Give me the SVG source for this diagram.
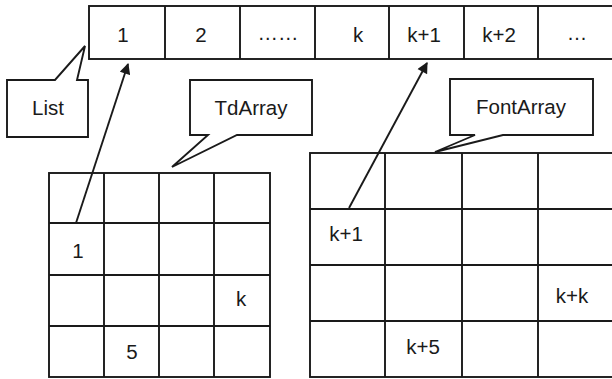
<svg xmlns="http://www.w3.org/2000/svg" width="612" height="379" viewBox="0 0 612 379">
<defs>
<style>
.ln{fill:none;stroke:#1a1a1a;stroke-width:1.9;stroke-linejoin:miter}
.bx{fill:#fff;stroke:#1a1a1a;stroke-width:1.9}
.t{font-family:"Liberation Sans",Arial,sans-serif;font-size:20.5px;fill:#1a1a1a;text-anchor:middle}
</style>
<marker id="ah" viewBox="0 0 10 10" refX="9" refY="5" markerWidth="12" markerHeight="11" markerUnits="userSpaceOnUse" orient="auto">
<path d="M0,0 L10,5 L0,10 Z" fill="#1a1a1a"/>
</marker>
</defs>
<rect width="612" height="379" fill="#fff"/>
<g id="list-array">
<rect class="bx" x="89" y="6" width="527" height="53"/>
<path class="ln" d="M165,6V59M240,6V59M315,6V59M389,6V59M464,6V59M538,6V59"/>
<text class="t" x="123" y="42">1</text>
<text class="t" x="201" y="42">2</text>
<text class="t" x="278" y="40">……</text>
<text class="t" x="358" y="42">k</text>
<text class="t" x="424" y="42">k+1</text>
<text class="t" x="499" y="42">k+2</text>
<text class="t" x="577" y="40">…</text>
</g>
<g id="list-callout">
<path class="bx" d="M7,80 L55,80 L85,46 L77,80 L88,80 L88,137 L7,137 Z"/>
<text class="t" x="48" y="115">List</text>
</g>
<g id="tdarray-callout">
<path class="bx" d="M190,80 L312,80 L312,135 L237,135 L172,167 L208,135 L190,135 Z"/>
<text class="t" x="251" y="115">TdArray</text>
</g>
<g id="fontarray-callout">
<path class="bx" d="M450,79 L593,79 L593,135 L503,135 L435,152 L475,135 L450,135 Z"/>
<text class="t" x="521" y="114">FontArray</text>
</g>
<g id="tdarray-grid">
<rect class="bx" x="49" y="173" width="221" height="204"/>
<path class="ln" d="M104,173V377M159,173V377M214,173V377M49,223H270M49,275H270M49,326H270"/>
<text class="t" x="78" y="258">1</text>
<text class="t" x="241" y="306">k</text>
<text class="t" x="132" y="359">5</text>
</g>
<g id="fontarray-grid">
<rect class="bx" x="310" y="153" width="306" height="224"/>
<path class="ln" d="M385,153V377M462,153V377M538,153V377M310,209H616M310,265H616M310,321H616"/>
<text class="t" x="346" y="241">k+1</text>
<text class="t" x="572" y="303">k+k</text>
<text class="t" x="423" y="354">k+5</text>
</g>
<g id="connectors">
<line class="ln" x1="76" y1="223" x2="128" y2="64" marker-end="url(#ah)"/>
<line class="ln" x1="349" y1="208" x2="427" y2="63" marker-end="url(#ah)"/>
</g>
</svg>
